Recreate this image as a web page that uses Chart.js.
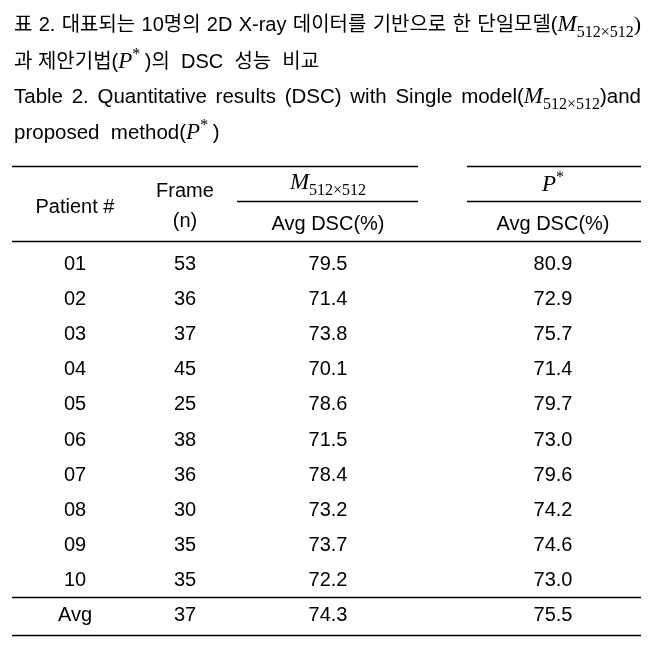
<!DOCTYPE html>
<html>
<head>
<meta charset="utf-8">
<script src="https://cdn.jsdelivr.net/npm/chart.js@4"></script>
<style>
  html, body { margin: 0; padding: 0; background: #ffffff; }
  #wrap { position: relative; width: 653px; height: 645px; }
</style>
</head>
<body>
<div id="wrap"><canvas id="c" width="653" height="645"></canvas></div>
<script>
// ---- table data ----
const patients = ['01', '02', '03', '04', '05', '06', '07', '08', '09', '10', 'Avg'];
const frames = [53, 36, 37, 45, 25, 38, 36, 30, 35, 35, 37];
const dscSingle = [79.5, 71.4, 73.8, 70.1, 78.6, 71.5, 78.4, 73.2, 73.7, 72.2, 74.3];
const dscProposed = [80.9, 72.9, 75.7, 71.4, 79.7, 73.0, 79.6, 74.2, 74.6, 73.0, 75.5];
const headerLabels = ['Patient #', 'Frame', '(n)', 'Avg DSC(%)'];

// ---- layout (styles / positions) ----
const COLS = { patient: 75, frame: 185, single: 328, proposed: 553 };
const BODY_FONT = '20px "Liberation Sans", Arial, sans-serif';
const KR_FONT = '"Liberation Sans", "Noto Sans CJK KR", sans-serif';
const MATH_FONT = '"Liberation Serif", "DejaVu Serif", serif';

function drawRuns(ctx, x, y, runs, targetWidth) {
  let widths = runs.map(r => { ctx.font = r.font; return ctx.measureText(r.t).width; });
  let total = widths.reduce((a, b) => a + b, 0);
  let spaces = 0;
  runs.forEach(r => { if (!r.math) spaces += (r.t.match(/ /g) || []).length; });
  let extra = (targetWidth && spaces) ? (targetWidth - total) / spaces : 0;
  let cx = x;
  runs.forEach(r => {
    ctx.font = r.font;
    if (r.math || !extra) {
      ctx.fillText(r.t, cx, y + (r.dy || 0));
      cx += ctx.measureText(r.t).width;
    } else {
      const parts = r.t.split(' ');
      parts.forEach((p, i) => {
        ctx.fillText(p, cx, y + (r.dy || 0));
        cx += ctx.measureText(p).width;
        if (i < parts.length - 1) cx += ctx.measureText(' ').width + extra;
      });
    }
  });
  return cx;
}

function mRuns(size) {
  return [
    { t: 'M', font: 'italic ' + size + 'px ' + MATH_FONT, math: true },
    { t: '512×512', font: Math.round(size * 0.68) + 'px ' + MATH_FONT, dy: size * 0.28, math: true }
  ];
}
function pRuns(size) {
  return [
    { t: 'P', font: 'italic ' + size + 'px ' + MATH_FONT, math: true },
    { t: '*', font: Math.round(size * 0.68) + 'px ' + MATH_FONT, dy: -size * 0.38, math: true },
    { t: '\u2009', font: size + 'px ' + MATH_FONT, math: true }
  ];
}
function runsWidth(ctx, runs) {
  return runs.reduce((a, r) => { ctx.font = r.font; return a + ctx.measureText(r.t).width; }, 0);
}

const tablePlugin = {
  id: 'tablePlugin',
  afterDraw(chart) {
    const ctx = chart.ctx;
    const yScale = chart.scales.y;
    ctx.save();
    ctx.fillStyle = '#000';
    ctx.strokeStyle = '#000';
    ctx.textBaseline = 'alphabetic';
    ctx.textAlign = 'left';

    // ---- caption ----
    const kf = '20px ' + KR_FONT;
    drawRuns(ctx, 14, 31, [{ t: '표 2. 대표되는 10명의 2D X-ray 데이터를 기반으로 한 단일모델(', font: kf }]
      .concat(mRuns(23)).concat([{ t: ')', font: '22px ' + MATH_FONT, math: true }]), 627);
    drawRuns(ctx, 14, 68, [{ t: '과 제안기법(', font: kf }].concat(pRuns(23))
      .concat([{ t: ')의  DSC  성능  비교', font: kf }]));
    const ef = '20.5px "Liberation Sans", Arial, sans-serif';
    drawRuns(ctx, 14, 103, [{ t: 'Table 2. Quantitative results (DSC) with Single model(', font: ef }]
      .concat(mRuns(23)).concat([{ t: ')and', font: ef }]), 627);
    drawRuns(ctx, 14, 139, [{ t: 'proposed  method(', font: ef }].concat(pRuns(23))
      .concat([{ t: ')', font: ef }]));

    // ---- rules ----
    ctx.lineWidth = 1.4;
    const hline = (x1, x2, y) => { ctx.beginPath(); ctx.moveTo(x1, y); ctx.lineTo(x2, y); ctx.stroke(); };
    hline(12, 418, 166.5);
    hline(467, 641, 166.5);
    hline(237, 418, 201.5);
    hline(467, 641, 201.5);
    hline(12, 641, 241.5);
    const yAvg = yScale.getPixelForValue(patients.length - 1);
    const y10 = yScale.getPixelForValue(patients.length - 2);
    hline(12, 641, Math.round((yAvg + y10) / 2) + 0.5);
    hline(12, 641, 635.5);

    // ---- header ----
    ctx.font = BODY_FONT;
    ctx.textAlign = 'center';
    ctx.textBaseline = 'middle';
    ctx.fillText(headerLabels[0], COLS.patient, 207);
    ctx.fillText(headerLabels[1], COLS.frame, 191);
    ctx.fillText(headerLabels[2], COLS.frame, 221);
    ctx.fillText(headerLabels[3], COLS.single, 224);
    ctx.fillText(headerLabels[3], COLS.proposed, 224);
    ctx.textAlign = 'left';
    ctx.textBaseline = 'alphabetic';
    let mr = mRuns(23);
    drawRuns(ctx, COLS.single - runsWidth(ctx, mr) / 2, 189, mr);
    let pr = pRuns(23).slice(0, 2);
    drawRuns(ctx, COLS.proposed - runsWidth(ctx, pr) / 2, 191, pr);

    // ---- body cells ----
    ctx.font = BODY_FONT;
    ctx.textAlign = 'center';
    ctx.textBaseline = 'middle';
    patients.forEach((p, i) => {
      const y = yScale.getPixelForValue(i) + 1;
      ctx.fillText(p, COLS.patient, y);
      ctx.fillText(String(frames[i]), COLS.frame, y);
      ctx.fillText(dscSingle[i].toFixed(1), COLS.single, y);
      ctx.fillText(dscProposed[i].toFixed(1), COLS.proposed, y);
    });
    ctx.restore();
  }
};

new Chart(document.getElementById('c'), {
  type: 'bar',
  data: {
    labels: patients,
    datasets: [
      { label: 'Frame (n)', data: frames, backgroundColor: 'rgba(0,0,0,0)', borderWidth: 0 },
      { label: 'M512x512 Avg DSC(%)', data: dscSingle, backgroundColor: 'rgba(0,0,0,0)', borderWidth: 0 },
      { label: 'P* Avg DSC(%)', data: dscProposed, backgroundColor: 'rgba(0,0,0,0)', borderWidth: 0 }
    ]
  },
  options: {
    indexAxis: 'y',
    responsive: false,
    animation: false,
    events: [],
    layout: { padding: { top: 245.5, bottom: 12.5, left: 0, right: 0 } },
    plugins: { legend: { display: false }, tooltip: { enabled: false }, title: { display: false } },
    scales: {
      x: { display: false, min: 0 },
      y: { display: false, offset: true, grid: { display: false } }
    }
  },
  plugins: [tablePlugin]
});
</script>
</body>
</html>
